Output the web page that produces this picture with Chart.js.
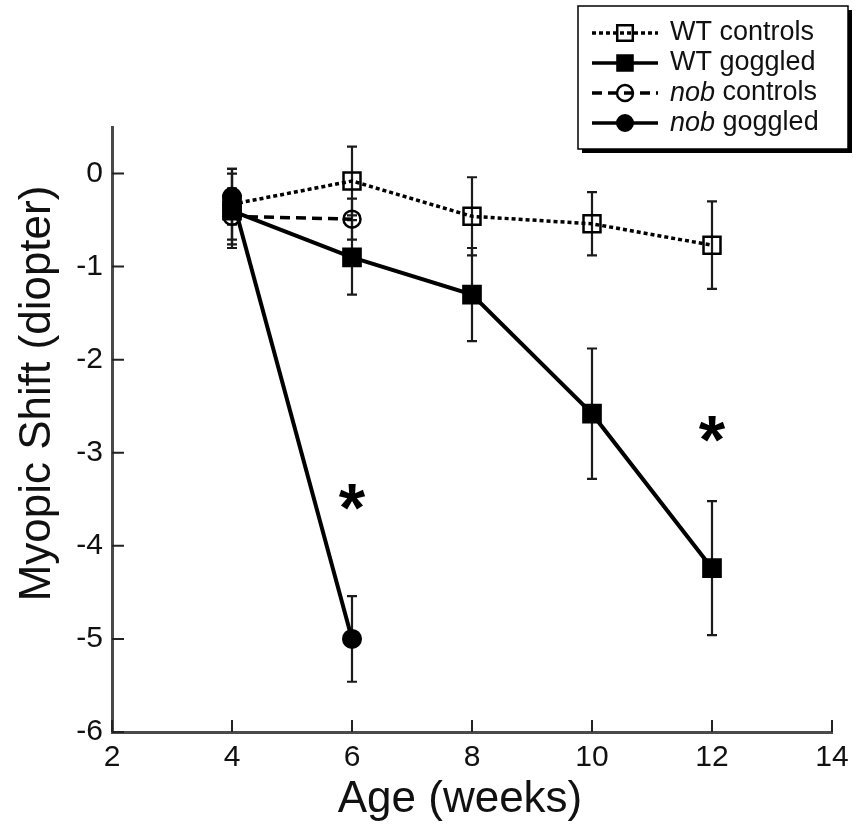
<!DOCTYPE html>
<html>
<head>
<meta charset="utf-8">
<script src="https://cdn.jsdelivr.net/npm/chart.js@4"></script>
<style>
  html, body { margin: 0; padding: 0; background: #fff; }
</style>
</head>
<body>
<canvas id="chart" width="858" height="828"></canvas>
<script>
// Age in weeks
const weeks = [4, 6, 8, 10, 12];
const nobWeeks = [4, 6];

// Myopic shift (diopter), mean and error per group
const wtControls = [-0.33, -0.08, -0.46, -0.54, -0.77];
const wtControlsErr = [0.38, 0.37, 0.42, 0.34, 0.47];
const wtGoggled = [-0.40, -0.90, -1.30, -2.58, -4.24];
const wtGoggledErr = [0.40, 0.40, 0.50, 0.70, 0.72];
const nobControls = [-0.46, -0.49];
const nobControlsErr = [0.30, 0.22];
const nobGoggled = [-0.25, -5.00];
const nobGoggledErr = [0.30, 0.46];

const seriesLabels = ['WT controls', 'WT goggled', 'nob controls', 'nob goggled'];
const italicWords = ['', '', 'nob', 'nob'];

// significance stars
const starWeeks = [6, 12];
const starValues = [-3.5, -2.77];

const xTicks = [2, 4, 6, 8, 10, 12, 14];
const yTicks = [-6, -5, -4, -3, -2, -1, 0];

const FONT = '"Liberation Sans", Arial, sans-serif';

const toPoints = (xs, ys) => xs.map((x, i) => ({ x: x, y: ys[i] }));

const datasets = [
  {
    label: seriesLabels[0],
    data: toPoints(weeks, wtControls),
    errors: wtControlsErr,
    borderColor: '#000',
    borderWidth: 3.5,
    borderDash: [4, 3],
    pointStyle: 'rect',
    pointRadius: 12,
    pointBorderWidth: 2.5,
    pointBackgroundColor: 'rgba(0,0,0,0)',
    pointBorderColor: '#000',
  },
  {
    label: seriesLabels[1],
    data: toPoints(weeks, wtGoggled),
    errors: wtGoggledErr,
    borderColor: '#000',
    borderWidth: 4,
    pointStyle: 'rect',
    pointRadius: 12.5,
    pointBorderWidth: 2,
    pointBackgroundColor: '#000',
    pointBorderColor: '#000',
  },
  {
    label: seriesLabels[2],
    data: toPoints(nobWeeks, nobControls),
    errors: nobControlsErr,
    borderColor: '#000',
    borderWidth: 3.5,
    borderDash: [10, 6],
    pointStyle: 'circle',
    pointRadius: 8.5,
    pointBorderWidth: 2.5,
    pointBackgroundColor: 'rgba(0,0,0,0)',
    pointBorderColor: '#000',
  },
  {
    label: seriesLabels[3],
    data: toPoints(nobWeeks, nobGoggled),
    errors: nobGoggledErr,
    borderColor: '#000',
    borderWidth: 4,
    pointStyle: 'circle',
    pointRadius: 9,
    pointBorderWidth: 2,
    pointBackgroundColor: '#000',
    pointBorderColor: '#000',
  },
];

// error bars, inward ticks, stars, axis titles and the boxed legend
const extras = {
  id: 'extras',
  beforeDatasetsDraw(chart) {
    const ctx = chart.ctx;
    const xs = chart.scales.x, ys = chart.scales.y;
    ctx.save();
    ctx.strokeStyle = '#1a1a1a';
    ctx.lineWidth = 2.2;
    ctx.setLineDash([]);
    chart.data.datasets.forEach(ds => {
      ds.data.forEach((p, i) => {
        const px = xs.getPixelForValue(p.x);
        const top = ys.getPixelForValue(p.y + ds.errors[i]);
        const bot = ys.getPixelForValue(p.y - ds.errors[i]);
        ctx.beginPath();
        ctx.moveTo(px, top); ctx.lineTo(px, bot);
        ctx.moveTo(px - 5, top); ctx.lineTo(px + 5, top);
        ctx.moveTo(px - 5, bot); ctx.lineTo(px + 5, bot);
        ctx.stroke();
      });
    });
    ctx.restore();
  },
  afterDraw(chart) {
    const ctx = chart.ctx;
    const area = chart.chartArea;
    const xs = chart.scales.x, ys = chart.scales.y;
    ctx.save();

    // ticks pointing into the plot
    ctx.strokeStyle = '#222';
    ctx.lineWidth = 2;
    ctx.beginPath();
    xs.ticks.forEach(t => {
      const px = xs.getPixelForValue(t.value);
      ctx.moveTo(px, area.bottom); ctx.lineTo(px, area.bottom - 12);
    });
    ys.ticks.forEach(t => {
      const py = ys.getPixelForValue(t.value);
      ctx.moveTo(area.left, py); ctx.lineTo(area.left + 12, py);
    });
    ctx.stroke();

    // stars
    ctx.fillStyle = '#000';
    ctx.font = 'bold 68px ' + FONT;
    ctx.textAlign = 'center';
    ctx.textBaseline = 'alphabetic';
    starWeeks.forEach((w, i) => {
      ctx.fillText('*', xs.getPixelForValue(w), ys.getPixelForValue(starValues[i]) + 32);
    });

    // axis titles
    ctx.fillStyle = '#111';
    ctx.textBaseline = 'middle';
    ctx.font = '44px ' + FONT;
    ctx.fillText('Age (weeks)', (area.left + area.right) / 2 - 12, 800);
    ctx.save();
    ctx.translate(38, (area.top + area.bottom) / 2 - 36);
    ctx.rotate(-Math.PI / 2);
    ctx.fillText('Myopic Shift (diopter)', 0, 0);
    ctx.restore();

    // legend box
    const bx = 578, by = 6, bw = 270, bh = 143;
    ctx.fillStyle = '#000';
    ctx.fillRect(bx + 4, by + 4, bw, bh);
    ctx.fillStyle = '#fff';
    ctx.fillRect(bx, by, bw, bh);
    ctx.strokeStyle = '#000';
    ctx.lineWidth = 1.5;
    ctx.strokeRect(bx, by, bw, bh);

    ctx.textAlign = 'left';
    chart.data.datasets.forEach((ds, i) => {
      const ry = by + 27 + i * 30;
      ctx.save();
      ctx.strokeStyle = '#000';
      ctx.lineWidth = 3.5;
      ctx.setLineDash(ds.borderDash || []);
      ctx.beginPath();
      ctx.moveTo(592, ry); ctx.lineTo(658, ry);
      ctx.stroke();
      ctx.setLineDash([]);
      ctx.fillStyle = ds.pointBackgroundColor;
      ctx.strokeStyle = ds.pointBorderColor;
      ctx.lineWidth = ds.pointBorderWidth;
      Chart.helpers.drawPoint(ctx, {
        pointStyle: ds.pointStyle,
        radius: ds.pointStyle === 'rect' ? 11 : 8,
        rotation: 0,
        borderWidth: ds.pointBorderWidth,
      }, 625, ry);
      ctx.restore();

      ctx.fillStyle = '#111';
      ctx.textBaseline = 'middle';
      let tx = 670;
      const it = italicWords[i];
      let rest = ds.label;
      if (it && rest.startsWith(it)) {
        ctx.font = 'italic 27px ' + FONT;
        ctx.fillText(it, tx, ry);
        tx += ctx.measureText(it).width;
        rest = rest.slice(it.length);
      }
      ctx.font = '27px ' + FONT;
      ctx.fillText(rest, tx, ry);
    });
    ctx.restore();
  },
};

new Chart(document.getElementById('chart'), {
  type: 'line',
  data: { datasets: datasets },
  plugins: [extras],
  options: {
    responsive: false,
    animation: false,
    layout: { padding: { top: 127, right: 26, left: 0, bottom: 0 } },
    plugins: {
      legend: { display: false },
      tooltip: { enabled: false },
    },
    scales: {
      x: {
        type: 'linear',
        min: 2,
        max: 14,
        afterBuildTicks: s => { s.ticks = xTicks.map(v => ({ value: v })); },
        afterFit: s => { s.height = 96; },
        grid: { display: false, drawTicks: false },
        border: { display: true, color: '#4a4a4a', width: 3 },
        ticks: {
          color: '#111',
          padding: 8,
          maxRotation: 0,
          font: { family: FONT, size: 30 },
          callback: v => String(v),
        },
      },
      y: {
        type: 'linear',
        min: -6,
        max: 0.5,
        afterBuildTicks: s => { s.ticks = yTicks.map(v => ({ value: v })); },
        afterFit: s => { s.width = 112; },
        grid: { display: false, drawTicks: false },
        border: { display: true, color: '#4a4a4a', width: 3 },
        ticks: {
          color: '#111',
          padding: 9,
          font: { family: FONT, size: 30 },
          callback: v => String(v),
        },
      },
    },
  },
});
</script>
</body>
</html>
